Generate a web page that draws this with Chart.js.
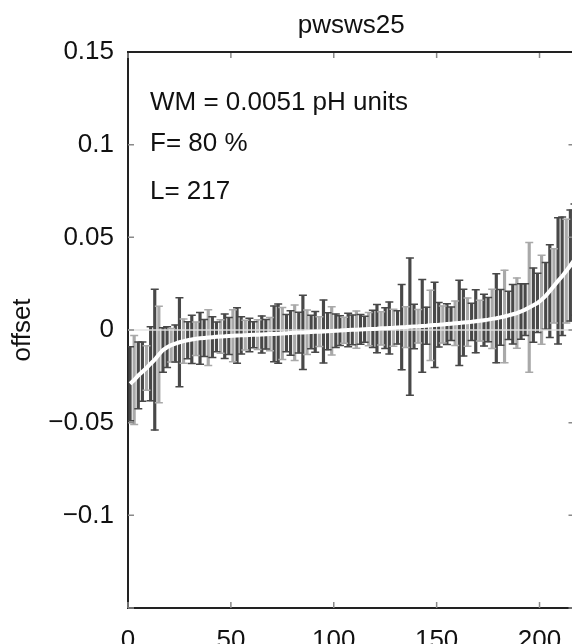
<!DOCTYPE html>
<html>
<head>
<meta charset="utf-8">
<script src="https://cdn.jsdelivr.net/npm/chart.js@4.4.0/dist/chart.umd.min.js"></script>
<style>
  html, body { margin: 0; padding: 0; background: #fff; overflow: hidden; }
  canvas { display: block; }
</style>
</head>
<body>
<canvas id="chart" width="580" height="644"></canvas>
<script>
// station index (every second point of the 217)
const xIndex = [];
for (let i = 1; i <= 217; i += 2) xIndex.push(i);

// sorted offsets
const offsets = [
  -0.0290, -0.0270, -0.0245, -0.0225, -0.0205, -0.0182, -0.0160, -0.0132, -0.0108, -0.0093,
  -0.0082, -0.0073, -0.0066, -0.0060, -0.0055, -0.0051, -0.0047, -0.0045, -0.0043, -0.0041,
  -0.0039, -0.0037, -0.0035, -0.0034, -0.0032, -0.0031, -0.0030, -0.0029, -0.0028, -0.0027,
  -0.0026, -0.0025, -0.0024, -0.0023, -0.0022, -0.0021, -0.0020, -0.0019, -0.0017, -0.0016,
  -0.0015, -0.0014, -0.0013, -0.0012, -0.0011, -0.0010, -0.0009, -0.0008, -0.0007, -0.0005,
  -0.0004, -0.0003, -0.0001, 0.0000, 0.0001, 0.0002, 0.0003, 0.0004, 0.0005, 0.0006,
  0.0007, 0.0009, 0.0010, 0.0011, 0.0012, 0.0014, 0.0015, 0.0016, 0.0018, 0.0019,
  0.0020, 0.0022, 0.0023, 0.0025, 0.0027, 0.0028, 0.0030, 0.0032, 0.0034, 0.0036,
  0.0038, 0.0040, 0.0042, 0.0044, 0.0047, 0.0050, 0.0053, 0.0056, 0.0060, 0.0063,
  0.0068, 0.0073, 0.0079, 0.0085, 0.0091, 0.0100, 0.0110, 0.0122, 0.0134, 0.0146,
  0.0163, 0.0184, 0.0210, 0.0238, 0.0265, 0.0290, 0.0318, 0.0348, 0.0380
];

// error bar half widths
const errors = [
  0.020, 0.024, 0.018, 0.016, 0.012, 0.020, 0.038, 0.026, 0.012, 0.011,
  0.009, 0.010, 0.024, 0.012, 0.010, 0.013, 0.009, 0.014, 0.010, 0.015,
  0.011, 0.008, 0.009, 0.012, 0.010, 0.014, 0.015, 0.010, 0.008, 0.009,
  0.007, 0.008, 0.010, 0.008, 0.009, 0.015, 0.016, 0.014, 0.010, 0.012,
  0.015, 0.011, 0.020, 0.012, 0.009, 0.011, 0.008, 0.017, 0.010, 0.013,
  0.009, 0.008, 0.007, 0.009, 0.008, 0.010, 0.008, 0.007, 0.009, 0.010,
  0.013, 0.009, 0.011, 0.014, 0.010, 0.009, 0.023, 0.011, 0.037, 0.012,
  0.009, 0.025, 0.010, 0.019, 0.023, 0.012, 0.010, 0.011, 0.009, 0.012,
  0.023, 0.018, 0.013, 0.010, 0.017, 0.011, 0.014, 0.012, 0.016, 0.024,
  0.015, 0.025, 0.013, 0.016, 0.019, 0.015, 0.014, 0.035, 0.020, 0.016,
  0.024, 0.018, 0.025, 0.020, 0.034, 0.032, 0.028, 0.030, 0.030
];

const xTicks = [0, 50, 100, 150, 200];
const yTicks = [-0.15, -0.1, -0.05, 0, 0.05, 0.1, 0.15];
const infoLines = ['WM = 0.0051 pH units', 'F= 80 %', 'L= 217'];

const FONT = '"Liberation Sans", Arial, Helvetica, sans-serif';
const DARK = '#484848';
const LIGHT = '#a9a9a9';
const barColor = c => (c.dataIndex % 3 === 1 ? LIGHT : DARK);

const pts = xIndex.map((x, i) => ({ x: x, y: offsets[i] }));
const bars = xIndex.map((x, i) => ({ x: x, y: [offsets[i] - errors[i], offsets[i] + errors[i]] }));
const upper = xIndex.map((x, i) => ({ x: x, y: offsets[i] + errors[i] }));
const lower = xIndex.map((x, i) => ({ x: x, y: offsets[i] - errors[i] }));

// title, text block, inward tick marks and top border
const extras = {
  id: 'extras',
  afterDatasetsDraw(chart) {
    const { ctx, chartArea: a, scales: { x, y } } = chart;
    ctx.save();
    ctx.strokeStyle = '#8a8a8a';
    ctx.lineWidth = 1.5;
    ctx.beginPath();
    xTicks.forEach(t => {
      const px = x.getPixelForValue(t);
      ctx.moveTo(px, a.bottom); ctx.lineTo(px, a.bottom - 6);
      ctx.moveTo(px, a.top); ctx.lineTo(px, a.top + 6);
    });
    yTicks.forEach(t => {
      const py = y.getPixelForValue(t);
      ctx.moveTo(a.left, py); ctx.lineTo(a.left + 6, py);
      ctx.moveTo(a.right, py); ctx.lineTo(a.right - 6, py);
    });
    ctx.stroke();

    ctx.strokeStyle = '#222';
    ctx.lineWidth = 2;
    ctx.beginPath();
    ctx.moveTo(a.left - 1, a.top); ctx.lineTo(a.right, a.top);
    ctx.stroke();

    ctx.fillStyle = '#111';
    ctx.font = '26px ' + FONT;
    ctx.textAlign = 'center';
    ctx.textBaseline = 'middle';
    ctx.fillText('pwsws25', (a.left + a.right) / 2, 26);

    ctx.textAlign = 'left';
    ctx.textBaseline = 'alphabetic';
    const base = [110, 151, 199];
    infoLines.forEach((s, i) => ctx.fillText(s, a.left + 22, base[i]));
    ctx.restore();
  }
};

new Chart(document.getElementById('chart'), {
  type: 'bar',
  data: {
    datasets: [
      {
        type: 'line',
        data: pts,
        borderColor: '#ffffff',
        borderWidth: 4,
        pointRadius: 0,
        order: 0
      },
      {
        type: 'line',
        data: [{ x: 0, y: 0 }, { x: 217, y: 0 }],
        borderColor: 'rgba(225,225,225,0.7)',
        borderWidth: 2,
        pointRadius: 0,
        order: 1
      },
      {
        type: 'scatter',
        data: upper,
        pointStyle: 'line',
        radius: 4,
        borderWidth: 1.5,
        borderColor: barColor,
        order: 2
      },
      {
        type: 'scatter',
        data: lower,
        pointStyle: 'line',
        radius: 4,
        borderWidth: 1.5,
        borderColor: barColor,
        order: 2
      },
      {
        data: bars,
        backgroundColor: barColor,
        barThickness: 2.5,
        order: 3
      }
    ]
  },
  options: {
    responsive: false,
    animation: false,
    devicePixelRatio: 1,
    layout: { padding: { top: 52, right: 2, left: 0, bottom: 0 } },
    plugins: { legend: { display: false }, tooltip: { enabled: false } },
    scales: {
      x: {
        type: 'linear',
        offset: false,
        min: 0,
        max: 217,
        grid: { display: false, offset: false },
        border: { display: true, color: '#222', width: 2 },
        ticks: { stepSize: 50, padding: 9, color: '#111', font: { family: FONT, size: 26 } },
        afterBuildTicks: s => { s.ticks = xTicks.map(v => ({ value: v })); },
        afterFit: s => { s.height = 36; }
      },
      y: {
        min: -0.15,
        max: 0.15,
        grid: { display: false },
        border: { display: true, color: '#222', width: 2 },
        ticks: {
          padding: 6,
          color: '#111',
          font: { family: FONT, size: 26 },
          callback: v => {
            const n = Number(v.toFixed(2));
            if (n === -0.15) return '';
            return n < 0 ? '\u2212' + String(-n) : String(n);
          }
        },
        afterBuildTicks: s => { s.ticks = yTicks.map(v => ({ value: v })); },
        title: { display: true, text: 'offset', color: '#111', font: { family: FONT, size: 26 }, padding: { top: 7, bottom: 0 } },
        afterFit: s => { s.width = 128; }
      }
    }
  },
  plugins: [extras]
});
</script>
</body>
</html>
